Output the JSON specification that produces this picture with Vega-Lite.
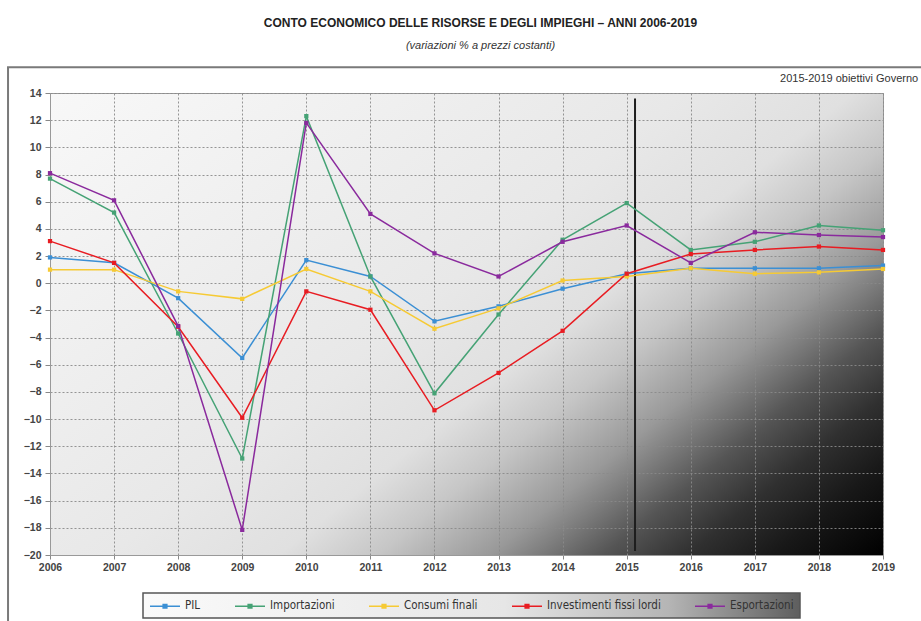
{
  "$schema": "https://vega.github.io/schema/vega-lite/v6.json",
  "width": 833,
  "height": 462,
  "autosize": {"type": "none"},
  "padding": {"left": 50, "top": 93, "right": 38, "bottom": 66},
  "background": "white",
  "title": {
    "text": "CONTO ECONOMICO DELLE RISORSE E DEGLI IMPIEGHI – ANNI 2006-2019",
    "subtitle": "(variazioni % a prezzi costanti)",
    "anchor": "middle",
    "dx": 14,
    "offset": 14,
    "font": "Liberation Sans",
    "fontSize": 12,
    "fontWeight": "bold",
    "color": "#222",
    "subtitleFont": "Liberation Sans",
    "subtitleFontSize": 11,
    "subtitleFontStyle": "italic",
    "subtitleColor": "#333",
    "subtitlePadding": 10
  },
  "datasets": {
    "series": [
      {"anno": 2006, "serie": "PIL", "valore": 1.9},
      {"anno": 2007, "serie": "PIL", "valore": 1.5},
      {"anno": 2008, "serie": "PIL", "valore": -1.1},
      {"anno": 2009, "serie": "PIL", "valore": -5.5},
      {"anno": 2010, "serie": "PIL", "valore": 1.7},
      {"anno": 2011, "serie": "PIL", "valore": 0.5},
      {"anno": 2012, "serie": "PIL", "valore": -2.8},
      {"anno": 2013, "serie": "PIL", "valore": -1.7},
      {"anno": 2014, "serie": "PIL", "valore": -0.4},
      {"anno": 2015, "serie": "PIL", "valore": 0.7},
      {"anno": 2016, "serie": "PIL", "valore": 1.1},
      {"anno": 2017, "serie": "PIL", "valore": 1.1},
      {"anno": 2018, "serie": "PIL", "valore": 1.1},
      {"anno": 2019, "serie": "PIL", "valore": 1.3},
      {"anno": 2006, "serie": "Importazioni", "valore": 7.7},
      {"anno": 2007, "serie": "Importazioni", "valore": 5.2},
      {"anno": 2008, "serie": "Importazioni", "valore": -3.7},
      {"anno": 2009, "serie": "Importazioni", "valore": -12.9},
      {"anno": 2010, "serie": "Importazioni", "valore": 12.3},
      {"anno": 2011, "serie": "Importazioni", "valore": 0.5},
      {"anno": 2012, "serie": "Importazioni", "valore": -8.1},
      {"anno": 2013, "serie": "Importazioni", "valore": -2.3},
      {"anno": 2014, "serie": "Importazioni", "valore": 3.2},
      {"anno": 2015, "serie": "Importazioni", "valore": 5.9},
      {"anno": 2016, "serie": "Importazioni", "valore": 2.45},
      {"anno": 2017, "serie": "Importazioni", "valore": 3.05},
      {"anno": 2018, "serie": "Importazioni", "valore": 4.25},
      {"anno": 2019, "serie": "Importazioni", "valore": 3.9},
      {"anno": 2006, "serie": "Consumi finali", "valore": 1.0},
      {"anno": 2007, "serie": "Consumi finali", "valore": 1.0},
      {"anno": 2008, "serie": "Consumi finali", "valore": -0.6},
      {"anno": 2009, "serie": "Consumi finali", "valore": -1.15},
      {"anno": 2010, "serie": "Consumi finali", "valore": 1.05},
      {"anno": 2011, "serie": "Consumi finali", "valore": -0.6},
      {"anno": 2012, "serie": "Consumi finali", "valore": -3.35},
      {"anno": 2013, "serie": "Consumi finali", "valore": -1.85},
      {"anno": 2014, "serie": "Consumi finali", "valore": 0.2},
      {"anno": 2015, "serie": "Consumi finali", "valore": 0.5},
      {"anno": 2016, "serie": "Consumi finali", "valore": 1.1},
      {"anno": 2017, "serie": "Consumi finali", "valore": 0.7},
      {"anno": 2018, "serie": "Consumi finali", "valore": 0.8},
      {"anno": 2019, "serie": "Consumi finali", "valore": 1.05},
      {"anno": 2006, "serie": "Investimenti fissi lordi", "valore": 3.1},
      {"anno": 2007, "serie": "Investimenti fissi lordi", "valore": 1.5},
      {"anno": 2008, "serie": "Investimenti fissi lordi", "valore": -3.2},
      {"anno": 2009, "serie": "Investimenti fissi lordi", "valore": -9.9},
      {"anno": 2010, "serie": "Investimenti fissi lordi", "valore": -0.6},
      {"anno": 2011, "serie": "Investimenti fissi lordi", "valore": -1.95},
      {"anno": 2012, "serie": "Investimenti fissi lordi", "valore": -9.35},
      {"anno": 2013, "serie": "Investimenti fissi lordi", "valore": -6.6},
      {"anno": 2014, "serie": "Investimenti fissi lordi", "valore": -3.5},
      {"anno": 2015, "serie": "Investimenti fissi lordi", "valore": 0.7},
      {"anno": 2016, "serie": "Investimenti fissi lordi", "valore": 2.15},
      {"anno": 2017, "serie": "Investimenti fissi lordi", "valore": 2.45},
      {"anno": 2018, "serie": "Investimenti fissi lordi", "valore": 2.7},
      {"anno": 2019, "serie": "Investimenti fissi lordi", "valore": 2.45},
      {"anno": 2006, "serie": "Esportazioni", "valore": 8.1},
      {"anno": 2007, "serie": "Esportazioni", "valore": 6.1},
      {"anno": 2008, "serie": "Esportazioni", "valore": -3.15},
      {"anno": 2009, "serie": "Esportazioni", "valore": -18.15},
      {"anno": 2010, "serie": "Esportazioni", "valore": 11.8},
      {"anno": 2011, "serie": "Esportazioni", "valore": 5.1},
      {"anno": 2012, "serie": "Esportazioni", "valore": 2.2},
      {"anno": 2013, "serie": "Esportazioni", "valore": 0.5},
      {"anno": 2014, "serie": "Esportazioni", "valore": 3.05},
      {"anno": 2015, "serie": "Esportazioni", "valore": 4.25},
      {"anno": 2016, "serie": "Esportazioni", "valore": 1.5},
      {"anno": 2017, "serie": "Esportazioni", "valore": 3.75},
      {"anno": 2018, "serie": "Esportazioni", "valore": 3.55},
      {"anno": 2019, "serie": "Esportazioni", "valore": 3.4}
    ],
    "frame": [{"x1": 2005.345, "x2": 2019.9, "y1": 15.9, "y2": -26}],
    "divider": [{"anno": 2015.13, "top": 13.6, "bottom": -19.7}],
    "note": [{"anno": 2019.55, "valore": 15.0, "testo": "2015-2019 obiettivi Governo"}]
  },
  "encoding": {
    "x": {
      "type": "quantitative",
      "title": null,
      "scale": {"domain": [2006, 2019], "nice": false, "zero": false},
      "axis": {
        "values": [2006, 2007, 2008, 2009, 2010, 2011, 2012, 2013, 2014, 2015, 2016, 2017, 2018, 2019],
        "format": "d",
        "labelFont": "Liberation Sans",
        "labelFontSize": 10.5,
        "labelFontWeight": "bold",
        "labelColor": "#444",
        "labelPadding": 3,
        "labelFlush": false,
        "labelOverlap": false,
        "tickSize": 4,
        "tickColor": "#888",
        "domainColor": "#999",
        "grid": true,
        "gridColor": "#8a8a8a",
        "gridDash": [2, 2],
        "gridWidth": 1,
        "gridOpacity": 0.9
      }
    },
    "y": {
      "type": "quantitative",
      "title": null,
      "scale": {"domain": [-20, 14], "nice": false, "zero": false},
      "axis": {
        "values": [-20, -18, -16, -14, -12, -10, -8, -6, -4, -2, 0, 2, 4, 6, 8, 10, 12, 14],
        "format": "d",
        "labelFont": "Liberation Sans",
        "labelFontSize": 10.5,
        "labelFontWeight": "bold",
        "labelColor": "#444",
        "labelPadding": 4,
        "labelOverlap": false,
        "labelFlush": false,
        "labelBound": false,
        "tickSize": 5,
        "tickColor": "#888",
        "domainColor": "#999",
        "grid": true,
        "gridColor": "#8a8a8a",
        "gridDash": [2, 2],
        "gridWidth": 1,
        "gridOpacity": 0.9
      }
    }
  },
  "layer": [
    {
      "data": {"name": "frame"},
      "mark": {"type": "rect", "fill": null, "fillOpacity": 0, "stroke": "#7a7a7a", "strokeWidth": 2},
      "encoding": {
        "x": {"field": "x1"},
        "x2": {"field": "x2"},
        "y": {"field": "y1"},
        "y2": {"field": "y2"}
      }
    },
    {
      "data": {"name": "divider"},
      "mark": {"type": "rule", "color": "#1e1e1e", "strokeWidth": 2},
      "encoding": {
        "x": {"field": "anno"},
        "y": {"field": "top"},
        "y2": {"field": "bottom"}
      }
    },
    {
      "data": {"name": "series"},
      "mark": {"type": "line", "strokeWidth": 1.5, "point": {"shape": "square", "size": 18, "filled": true, "opacity": 1}},
      "encoding": {
        "x": {"field": "anno"},
        "y": {"field": "valore"},
        "color": {
          "field": "serie",
          "type": "nominal",
          "scale": {
            "domain": ["PIL", "Importazioni", "Consumi finali", "Investimenti fissi lordi", "Esportazioni"],
            "range": ["#3b8fd4", "#45a275", "#f6ca34", "#e81c22", "#8a2a9d"]
          },
          "legend": {
            "title": null,
            "orient": "none",
            "legendX": 93,
            "legendY": 500,
            "direction": "horizontal",
            "columns": 5,
            "columnPadding": 30,
            "padding": 6,
            "symbolType": "M-1,0H4M1.2,-0.3H1.8V0.3H1.2Z",
            "symbolSize": 144,
            "symbolStrokeWidth": 1.6,
            "labelFont": "DejaVu Sans Condensed, Liberation Sans",
            "labelFontSize": 11.5,
            "labelColor": "#333",
            "labelOffset": 22,
            "strokeColor": "#555",
            "fillColor": "#eeeeee",
            "encode": {
              "legend": {
                "update": {
                  "fill": {"value": {"gradient": "linear", "x1": 0, "y1": 0, "x2": 1, "y2": 0, "stops": [
                    {"offset": 0, "color": "#fafafa"},
                    {"offset": 0.55, "color": "#e6e6e6"},
                    {"offset": 0.8, "color": "#b5b5b5"},
                    {"offset": 1, "color": "#5e5e5e"}
                  ]}},
                  "strokeWidth": {"value": 1.5}
                }
              }
            }
          }
        }
      }
    },
    {
      "data": {"name": "note"},
      "mark": {"type": "text", "align": "right", "baseline": "middle", "font": "Liberation Sans", "fontSize": 11, "color": "#333"},
      "encoding": {
        "x": {"field": "anno"},
        "y": {"field": "valore"},
        "text": {"field": "testo"}
      }
    }
  ],
  "config": {
    "axis": {"labelOverlap": false},
    "view": {
      "stroke": "#9a9a9a",
      "fill": {
        "gradient": "linear",
        "x1": 0, "y1": 0, "x2": 1.145, "y2": 0.79,
        "stops": [
          {"offset": 0, "color": "#f8f8f8"},
          {"offset": 0.45, "color": "#e8e8e8"},
          {"offset": 0.57, "color": "#e0e0e0"},
          {"offset": 0.64, "color": "#c6c6c6"},
          {"offset": 0.69, "color": "#aaaaaa"},
          {"offset": 0.72, "color": "#999999"},
          {"offset": 0.75, "color": "#808080"},
          {"offset": 0.8, "color": "#555555"},
          {"offset": 0.86, "color": "#303030"},
          {"offset": 0.92, "color": "#181818"},
          {"offset": 1, "color": "#000000"}
        ]
      }
    }
  }
}
